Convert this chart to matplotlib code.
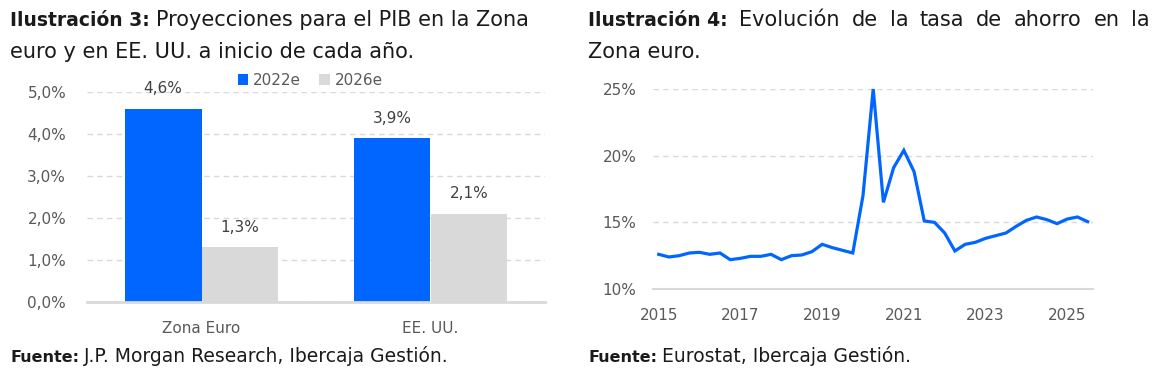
import matplotlib
matplotlib.use('Agg')
import matplotlib.pyplot as plt
import pandas as pd

plt.rcParams['font.family'] = ['DejaVu Sans']

# Ilustracion 3: PIB
categorias = ['Zona Euro', 'EE. UU.']
pib_2022 = [4.6, 3.9]
pib_2026 = [1.3, 2.1]
series = ['2022e', '2026e']
ticks_pib = [0, 1, 2, 3, 4, 5]

# Ilustracion 4: tasa de ahorro trimestral (2015T1 - 2025T3)
trimestres = pd.period_range('2015Q1', '2025Q3', freq='Q')
ahorro = [12.6, 12.4, 12.5, 12.7, 12.75, 12.6, 12.7, 12.2,
          12.3, 12.45, 12.45, 12.6, 12.2, 12.5, 12.55, 12.8,
          13.35, 13.1, 12.9, 12.7, 17.0, 25.0, 16.5, 19.1,
          20.4, 18.8, 15.1, 15.0, 14.2, 12.85, 13.35, 13.5,
          13.8, 14.0, 14.2, 14.7, 15.15, 15.4, 15.2, 14.9,
          15.25, 15.4, 15.05]
ticks_anio = [2015, 2017, 2019, 2021, 2023, 2025]
ticks_ahorro = [10, 15, 20, 25]

azul = '#0066FF'
gris = '#D9D9D9'
gris_txt = '#595959'
negro = '#1A1A1A'

W, H = 1161, 385
fig = plt.figure(figsize=(W / 100, H / 100), dpi=100)


def caja(x0, x1, ytop, ybot):  # pixeles -> coordenadas de figura
    return [x0 / W, 1 - ybot / H, (x1 - x0) / W, (ybot - ytop) / H]


# ---------- grafico de barras ----------
ax1 = fig.add_axes(caja(87, 545, 92, 302))
x = range(len(categorias))
ancho = 0.335
b1 = ax1.bar([i - ancho / 2 for i in x], pib_2022, ancho, color=azul, label=series[0])
b2 = ax1.bar([i + ancho / 2 for i in x], pib_2026, ancho, color=gris, label=series[1])
for barras in (b1, b2):
    for b in barras:
        v = b.get_height()
        ax1.annotate(f'{v:.1f}%'.replace('.', ','), (b.get_x() + b.get_width() / 2, v),
                     xytext=(0, 20), textcoords='offset pixels', ha='center', va='center',
                     fontsize=11, color='#404040', clip_on=False)
ax1.set_xlim(-0.5, 1.5)
ax1.set_ylim(0, 5)
ax1.set_yticks(ticks_pib)
ax1.set_yticklabels([f'{t:.1f}%'.replace('.', ',') for t in ticks_pib])
ax1.set_xticks(list(x))
ax1.set_xticklabels(categorias)
ax1.grid(axis='y', color=gris, linestyle=(0, (4, 3)), linewidth=1)
ax1.set_axisbelow(True)
for s in ['top', 'right', 'left']:
    ax1.spines[s].set_visible(False)
ax1.spines['bottom'].set_color(gris)
ax1.spines['bottom'].set_linewidth(2)
ax1.tick_params(length=0, labelsize=11, labelcolor=gris_txt)
ax1.tick_params(axis='x', pad=14)
ax1.tick_params(axis='y', pad=15)
ax1.legend(loc='center', bbox_to_anchor=(0.487, 1.057), ncol=2, frameon=False,
           fontsize=11, handlelength=0.7, handleheight=0.7, handletextpad=0.3,
           columnspacing=1.2, labelcolor=gris_txt)

# ---------- grafico de linea ----------
ax2 = fig.add_axes(caja(653, 1093, 89, 289))
xs = [p.year + (p.quarter - 1) / 4 for p in trimestres]
ax2.plot(xs, ahorro, color=azul, linewidth=2.3, clip_on=False, solid_joinstyle='miter')
ax2.set_xlim(2014.86, 2025.63)
ax2.set_ylim(10, 25)
ax2.set_xticks(ticks_anio)
ax2.set_yticks(ticks_ahorro)
ax2.set_yticklabels([f'{t}%' for t in ticks_ahorro])
ax2.grid(axis='y', color=gris, linestyle=(0, (4, 3)), linewidth=1)
ax2.set_axisbelow(True)
for s in ['top', 'right', 'left']:
    ax2.spines[s].set_visible(False)
ax2.spines['bottom'].set_color(gris)
ax2.spines['bottom'].set_linewidth(1.5)
ax2.tick_params(length=0, labelsize=11, labelcolor=gris_txt)
ax2.tick_params(axis='x', pad=14)
ax2.tick_params(axis='y', pad=12)

# ---------- titulos y fuentes ----------
fig.canvas.draw()
rend = fig.canvas.get_renderer()


def linea(x0, y, partes, fs_b, fs_r, x1=None, esp=0.32):
    # partes: lista de (texto, negrita); si x1, se justifica la linea
    objs = []
    for txt, bold in partes:
        objs.append(fig.text(x0 / W, 1 - y / H, txt, fontsize=fs_b if bold else fs_r, color=negro,
                             fontweight='bold' if bold else 'normal', va='baseline', ha='left'))
    anchos = [o.get_window_extent(rend).width for o in objs]
    espacio = esp * fs_r * 100 / 72
    if x1 is not None and len(objs) > 1:
        espacio = (x1 - x0 - sum(anchos)) / (len(objs) - 1)
    pos = x0
    for o, w in zip(objs, anchos):
        o.set_x(pos / W)
        pos += w + espacio


fs_b, fs_r = 13.5, 15
linea(10, 26, [('Ilustración 3:', True), ('Proyecciones para el PIB en la Zona', False)], fs_b, fs_r)
linea(10, 58, [('euro y en EE. UU. a inicio de cada año.', False)], fs_b, fs_r)
linea(588, 26, [('Ilustración 4:', True), ('Evolución', False), ('de', False), ('la', False),
                ('tasa', False), ('de', False), ('ahorro', False), ('en', False), ('la', False)],
      fs_b, fs_r, x1=1150)
linea(588, 58, [('Zona euro.', False)], fs_b, fs_r)

for x0, fuente in [(10, 'J.P. Morgan Research, Ibercaja Gestión.'), (588, 'Eurostat, Ibercaja Gestión.')]:
    linea(x0, 362, [('Fuente:', True), (fuente, False)], 11.5, 13.5, esp=0.25)

fig.savefig('out.png', dpi=100)
